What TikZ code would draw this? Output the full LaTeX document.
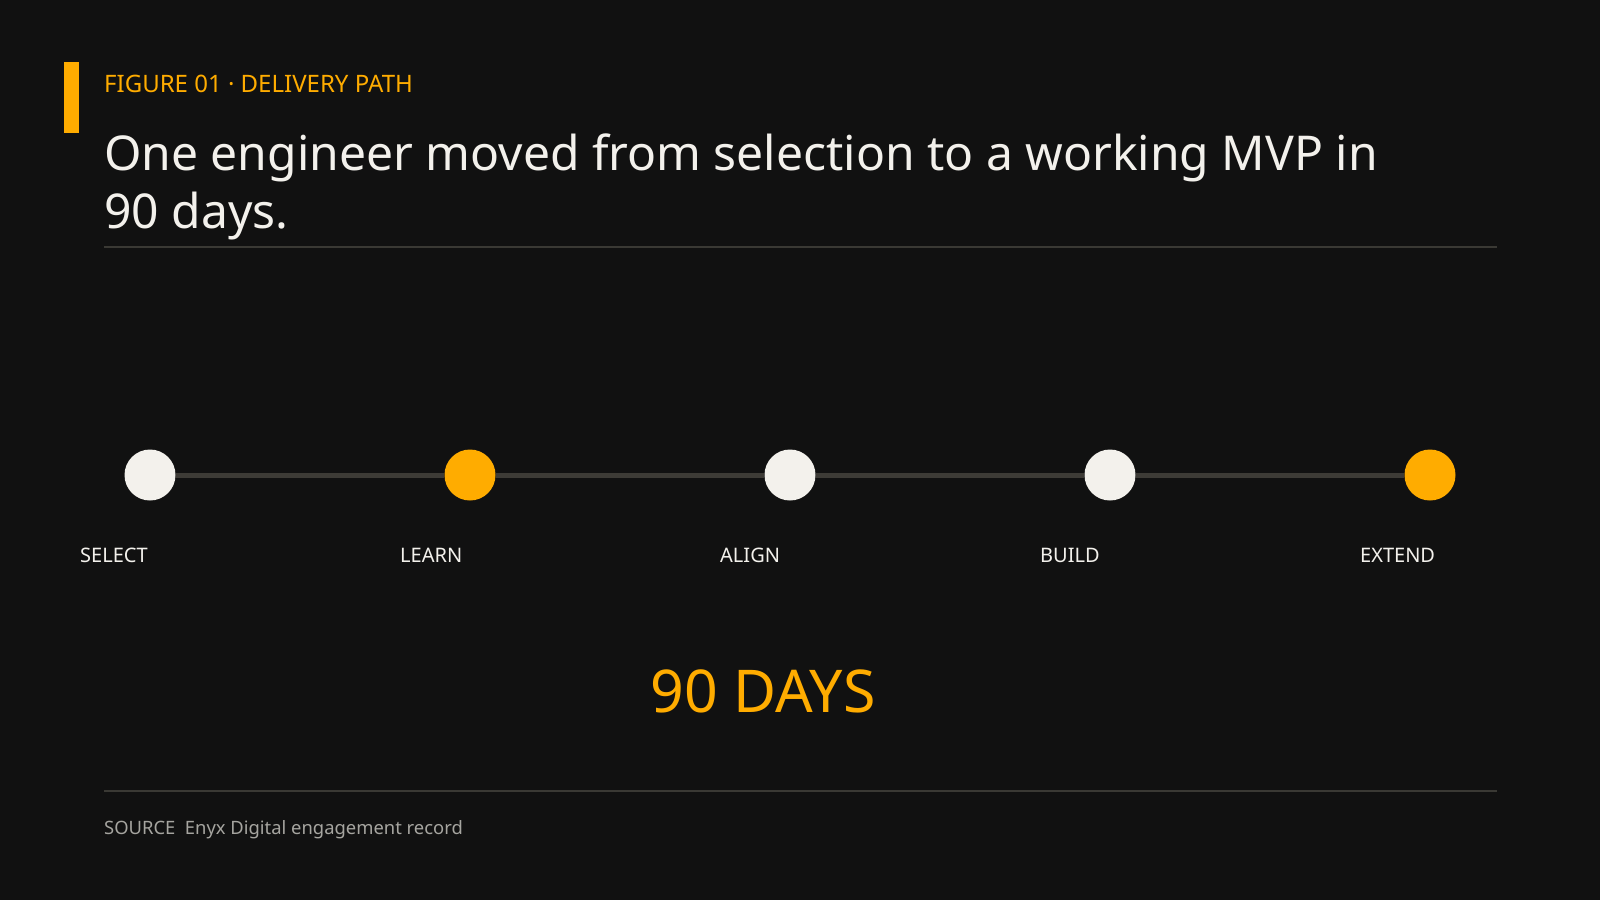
\documentclass[tikz,border=0pt]{standalone}
\usepackage{fontspec}
\setmainfont{Noto Sans}
\definecolor{bgdark}{HTML}{111111}
\definecolor{amber}{HTML}{FFAC00}
\definecolor{chalk}{HTML}{F3F1EC}
\definecolor{trackgray}{HTML}{3D3B36}
\definecolor{rulegray}{HTML}{3A3934}
\definecolor{notegray}{HTML}{A6A5A0}
\tikzset{
  milestone/.style={circle,minimum size=51pt,inner sep=0pt},
  steplabel/.style={anchor=base west,inner sep=0pt,text=chalk,font=\fontsize{20}{24}\selectfont},
  track/.style={draw=trackgray,line width=5pt},
  hrule/.style={draw=rulegray,line width=2pt}
}
\begin{document}
\begin{tikzpicture}[x=1pt,y=-1pt]
    \fill[bgdark] (0,0) rectangle (1600,900);
    \fill[amber] (64,62) rectangle (79,133);
    \draw (104,92) node[anchor=base west,inner sep=0pt,text=amber,font=\fontsize{24}{28}\selectfont] (kicker) {FIGURE 01 · DELIVERY PATH};
    % base of a two-line node sits on its last line
    \draw (104,228) node[anchor=base west,inner sep=0pt,text=chalk,align=left,font=\fontsize{48}{58}\selectfont] (title) {One engineer moved from selection to a working MVP in\\90 days.};
    \coordinate (ruleA) at (104,247);
    \coordinate (ruleB) at (1497,247);
    \draw[hrule] (ruleA) -- (ruleB);
    \draw (150,475) node[milestone,fill=chalk] (s1) {};
    \draw (470,475) node[milestone,fill=amber] (s2) {};
    \draw (790,475) node[milestone,fill=chalk] (s3) {};
    \draw (1110,475) node[milestone,fill=chalk] (s4) {};
    \draw (1430,475) node[milestone,fill=amber] (s5) {};
    \draw[track] (s1) -- (s2);
    \draw[track] (s2) -- (s3);
    \draw[track] (s3) -- (s4);
    \draw[track] (s4) -- (s5);
    \draw (80,562) node[steplabel] (l1) {SELECT};
    \draw (400,562) node[steplabel] (l2) {LEARN};
    \draw (720,562) node[steplabel] (l3) {ALIGN};
    \draw (1040,562) node[steplabel] (l4) {BUILD};
    \draw (1360,562) node[steplabel] (l5) {EXTEND};
    \draw (763,712) node[anchor=base,inner sep=0pt,text=amber,font=\fontsize{59}{70}\selectfont] (total) {90 DAYS};
    \coordinate (footA) at (104,791);
    \coordinate (footB) at (1497,791);
    \draw[hrule] (footA) -- (footB);
    \draw (104,834) node[anchor=base west,inner sep=0pt,text=notegray,font=\fontsize{18.4}{22}\selectfont] (source) {SOURCE\ \ Enyx Digital engagement record};
  \end{tikzpicture}
\end{document}
